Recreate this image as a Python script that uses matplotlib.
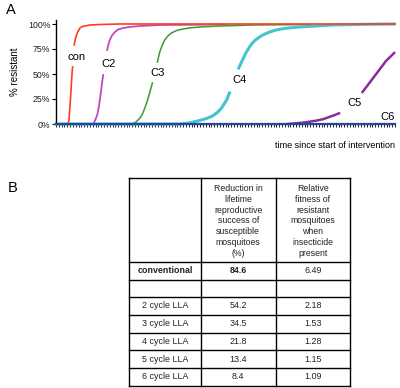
import numpy as np
import matplotlib
matplotlib.use("Agg")
import matplotlib.pyplot as plt

plt.rcParams['font.family'] = ['Liberation Sans', 'DejaVu Sans']

nan = np.nan
# ---- Panel A data (time in arbitrary units, fraction resistant) ----
con_t = [0, 4.3, 4.6, 5.1, 5.75, 5.9, nan, 6.45, 6.7, 7.05, 7.6, 8.5, 9.3, 10.2, 12, 15.5, 22.6, 120]
con_y = [0, 0, .04, .24, .54, .57, nan, .79, .83, .87, .915, .96, .975, .98, .99, .995, 1.0, 1.0]

c2_t = [0, 13.17, 13.9, 14.58, 15.1, 15.53, 16.34, 16.70, nan, 18.11, 18.5, 19.06, 19.8, 20.83, 22.0, 23.76, 26.0, 29.65, 36.71, 60]
c2_y = [0, 0, .04, .09, .16, .24, .42, .49, nan, .74, .79, .84, .885, .92, .945, .96, .97, .98, .99, .995]

c3_t = [0, 26.72, 28.3, 29.65, 30.6, 31.41, 32.2, 32.93, 34.13, nan, 35.9, 36.71, 37.5, 38.48, 39.6, 40.84, 42.7, 44.94, 47.5, 50.83, 57.89, 69.65, 90]
c3_y = [0, 0, .02, .057, .10, .157, .22, .29, .41, nan, .62, .72, .78, .84, .88, .91, .935, .95, .962, .97, .98, .99, .995]

c4_t = [0, 43.8, 47.5, 50.8, 53.3, 55.4, 57.1, 58.6, 60.4, 61.4, nan, 64.7, 66.0, 67.2, 68.5, 69.5, 70.6, 71.8, 73.2, 75.4, 77.9, 81.5, 86.1, 97.8, 109.7, 119.7]
c4_y = [0, 0, .012, .035, .055, .08, .115, .16, .24, .31, nan, .56, .64, .71, .77, .81, .84, .865, .89, .918, .94, .958, .97, .99, .997, 1.0]

c5_t = [82.0, 87.9, 92.0, 94.5, 96.7, 98.5, 100.2, nan, 108.5, 111.2, 114.4, 116.8, 119.7]
c5_y = [0, .015, .033, .048, .07, .088, .107, nan, .32, .42, .54, .63, .71]

c6_t = [0, 120]
c6_y = [0, 0]

ytick_vals = [0, .25, .5, .75, 1.0]
ytick_labels = ["0%", "25%", "50%", "75%", "100%"]

curve_labels = ["con", "C2", "C3", "C4", "C5", "C6"]
label_t = [7.4, 18.5, 36.0, 64.9, 105.5, 117.5]
label_y = [.67, .60, .51, .44, .21, .075]

# ---- Panel B data ----
col_headers = ["Reduction in\nlifetime\nreproductive\nsuccess of\nsusceptible\nmosquitoes\n(%)",
               "Relative\nfitness of\nresistant\nmosquitoes\nwhen\ninsecticide\npresent"]
row_names = ["conventional", "", "2 cycle LLA", "3 cycle LLA", "4 cycle LLA", "5 cycle LLA", "6 cycle LLA"]
reduction = ["84.6", "", "54.2", "34.5", "21.8", "13.4", "8.4"]
fitness = ["6.49", "", "2.18", "1.53", "1.28", "1.15", "1.09"]

W, H = 400, 388
fig = plt.figure(figsize=(4, 3.88), dpi=100)

ax = fig.add_axes([56 / W, (H - 124) / H, 339 / W, 104 / H])
ax.set_xlim(0, 120)
ax.set_ylim(0, 1.04)

ax.plot(con_t, con_y, color='#ff3b22', lw=1.2, zorder=3, clip_on=False)
ax.plot(c2_t, c2_y, color='#c448bd', lw=1.3, zorder=2, clip_on=False)
ax.plot(c3_t, c3_y, color='#3a9a2c', lw=1.1, zorder=2, clip_on=False)
ax.plot(c4_t, c4_y, color='#45c3cf', lw=2.2, zorder=2, clip_on=False)
ax.plot(c5_t, c5_y, color='#8b2b9e', lw=1.8, zorder=2, clip_on=False)
ax.plot(c6_t, c6_y, color='#2547a0', lw=1.6, zorder=4, clip_on=False)

for lab, tt, yy in zip(curve_labels, label_t, label_y):
    ax.text(tt, yy, lab, fontsize=8, ha='center', va='center', color='black')

for s in ['top', 'right']:
    ax.spines[s].set_visible(False)
ax.spines['left'].set_linewidth(1.0)
ax.spines['bottom'].set_linewidth(0.8)
ax.set_yticks(ytick_vals)
ax.set_yticklabels(ytick_labels, fontsize=6.3, color='#222222')
ax.tick_params(axis='y', length=3, width=0.8, pad=1)
ax.set_xticks([])
ax.set_xticks(np.arange(0, 121, 1), minor=True)
ax.tick_params(axis='x', which='minor', length=2, width=0.6, direction='out')
ax.set_ylabel("% resistant", fontsize=7, labelpad=4)
ax.yaxis.set_label_coords(-(56 - 20) / 339, 0.5)

# overlay axes in pixel coordinates
ov = fig.add_axes([0, 0, 1, 1])
ov.set_xlim(0, W)
ov.set_ylim(H, 0)
ov.axis('off')

ov.text(11, 10, "A", fontsize=10.5, ha='center', va='center')
ov.text(12.5, 188, "B", fontsize=10.5, ha='center', va='center')
ov.text(395, 146, "time since start of intervention", fontsize=6.5, ha='right', va='center')

# table
xs = [129, 200.7, 275.7, 350]
ys = [177.5, 262.3, 279.5, 297, 314.7, 332.7, 350.3, 368, 385.7]
for y in ys:
    ov.plot([xs[0], xs[-1]], [y, y], color='black', lw=1.0)
for x in xs:
    ov.plot([x, x], [ys[0], ys[-1]], color='black', lw=1.0)

cx = [(xs[i] + xs[i + 1]) / 2 for i in range(3)]
hy = (ys[0] + ys[1]) / 2 + 1
ov.text(cx[1], hy, col_headers[0], fontsize=6.3, ha='center', va='center', linespacing=1.25, color='#222222')
ov.text(cx[2], hy, col_headers[1], fontsize=6.3, ha='center', va='center', linespacing=1.25, color='#222222')

for i, (rn, rd, ft) in enumerate(zip(row_names, reduction, fitness)):
    yc = (ys[i + 1] + ys[i + 2]) / 2
    bold = 'bold' if i == 0 else 'normal'
    ov.text(cx[0], yc, rn, fontsize=6.4, ha='center', va='center', fontweight=bold, color='#222222')
    ov.text(cx[1], yc, rd, fontsize=6.4, ha='center', va='center', fontweight=bold, color='#222222')
    ov.text(cx[2], yc, ft, fontsize=6.4, ha='center', va='center', color='#222222')

fig.savefig("out.png", dpi=100)
